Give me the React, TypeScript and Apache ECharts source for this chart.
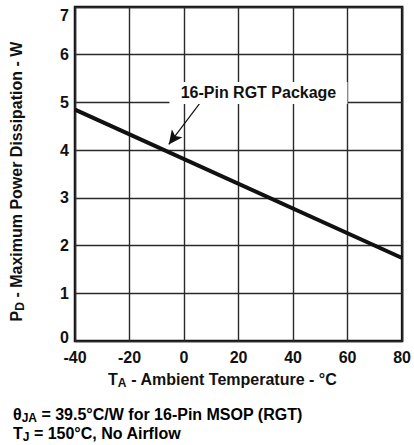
import React, { useEffect, useRef } from "react";
import * as echarts from "echarts";

const temperatures = [-40, 80];
const powerDissipation = [4.85, 1.74];
const xTicks = { min: -40, max: 80, step: 20 };
const yTicks = { min: 0, max: 7, step: 1 };
const annotationLabel = "16-Pin RGT Package";
const annotationAt = [27.3, 5.2];
const arrowFrom = [5.9, 4.99];
const arrowTo = [-5.6, 4.12];
const footnote1 = ["θ", "JA", " = 39.5°C/W for 16-Pin MSOP (RGT)"];
const footnote2 = ["T", "J", " = 150°C, No Airflow"];

const FONT = "'Liberation Sans', Arial, Helvetica, sans-serif";

export default function App() {
  const ref = useRef<HTMLDivElement>(null);
  useEffect(() => {
    if (!ref.current) return;
    const chart = echarts.init(ref.current, null, { renderer: "svg" });
    const rich = {
      m: { fontSize: 16, fontWeight: "bold", fontFamily: FONT, color: "#111", lineHeight: 17 },
      s: { fontSize: 12, fontWeight: "bold", fontFamily: FONT, color: "#111", padding: [8, 0, 0, 0] },
    };
    const labelRich = {
      n: { fontSize: 16, fontWeight: "bold", fontFamily: FONT, color: "#111" },
      lo: { fontSize: 16, fontWeight: "bold", fontFamily: FONT, color: "#111", padding: [0, 0, 8, 0] },
      hi: { fontSize: 16, fontWeight: "bold", fontFamily: FONT, color: "#111", padding: [16, 0, 0, 0] },
    };
    const data = temperatures.map((t, i) => [t, powerDissipation[i]]);
    chart.setOption({
      animation: false,
      backgroundColor: "#fff",
      grid: {
        left: 72,
        right: 7,
        top: 7,
        bottom: 104,
        show: true,
        borderColor: "#111",
        borderWidth: 2.5,
      },
      xAxis: {
        type: "value",
        min: xTicks.min,
        max: xTicks.max,
        interval: xTicks.step,
        axisLine: { show: false },
        axisTick: { show: false },
        splitLine: { show: true, lineStyle: { color: "#2a2a2a", width: 1.4 } },
        axisLabel: { margin: 8, fontSize: 16, fontWeight: "bold", fontFamily: FONT, color: "#111" },
        name: `{m|T}{s|A}{m| - Ambient Temperature - °C}`,
        nameLocation: "middle",
        nameGap: 28,
        nameTextStyle: { rich, padding: [0, 32, 0, 0] },
      },
      yAxis: {
        type: "value",
        min: yTicks.min,
        max: yTicks.max,
        interval: yTicks.step,
        axisLine: { show: false },
        axisTick: { show: false },
        splitLine: { show: true, lineStyle: { color: "#2a2a2a", width: 1.4 } },
        axisLabel: {
          margin: 6,
          fontSize: 16,
          fontWeight: "bold",
          fontFamily: FONT,
          color: "#111",
          rich: labelRich,
          formatter: (v: number) =>
            v === yTicks.min ? `{lo|${v}}` : v === yTicks.max ? `{hi|${v}}` : `{n|${v}}`,
        },
        name: `{m|P}{s|D}{m| - Maximum Power Dissipation - W}`,
        nameLocation: "middle",
        nameGap: 49,
        nameTextStyle: { rich, padding: [0, 15, 0, 0] },
      },
      series: [
        {
          type: "line",
          data,
          symbol: "none",
          lineStyle: { color: "#111", width: 4 },
          silent: true,
          markLine: {
            silent: true,
            symbol: ["none", "arrow"],
            symbolSize: [10, 14],
            label: { show: false },
            lineStyle: { color: "#111", width: 1.2, type: "solid" },
            data: [[{ coord: arrowFrom }, { coord: arrowTo }]],
          },
          markPoint: {
            silent: true,
            symbol: "rect",
            symbolSize: [178, 22],
            itemStyle: { color: "#fff" },
            label: {
              show: true,
              position: "inside",
              formatter: annotationLabel,
              fontSize: 16,
              fontWeight: "bold",
              fontFamily: FONT,
              color: "#111",
            },
            data: [{ coord: annotationAt }],
          },
        },
      ],
      graphic: [
        {
          type: "text",
          left: 13,
          top: 406,
          style: {
            text: `{m|${footnote1[0]}}{s|${footnote1[1]}}{m|${footnote1[2]}}`,
            rich,
          },
        },
        {
          type: "text",
          left: 13,
          top: 425,
          style: {
            text: `{m|${footnote2[0]}}{s|${footnote2[1]}}{m|${footnote2[2]}}`,
            rich,
          },
        },
      ],
    });
    return () => chart.dispose();
  }, []);
  return <div ref={ref} style={{ position: "fixed", left: 0, top: 0, width: 414, height: 445 }} />;
}
